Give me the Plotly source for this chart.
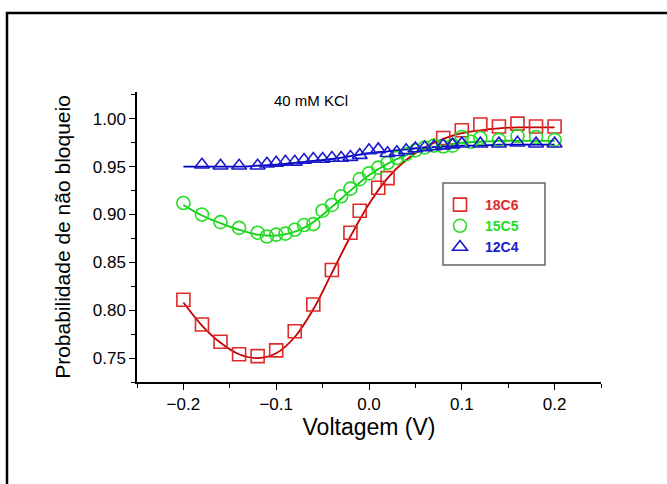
import plotly.graph_objects as go

# ---------------- data ----------------
title_text = "40 mM KCl"
x_title = "Voltagem (V)"
y_title = "Probabilidade de não bloqueio"
series_names = ["18C6", "15C5", "12C4"]

v_18c6 = [-0.20, -0.18, -0.16, -0.14, -0.12, -0.10, -0.08, -0.06, -0.04, -0.02, -0.01, 0.01, 0.02,
          0.08, 0.10, 0.12, 0.14, 0.16, 0.18, 0.20]
p_18c6 = [0.811, 0.785, 0.767, 0.754, 0.752, 0.758, 0.778, 0.806, 0.842, 0.881, 0.904, 0.928, 0.938,
          0.980, 0.988, 0.994, 0.992, 0.995, 0.992, 0.992]

v_15c5 = [-0.20, -0.18, -0.16, -0.14, -0.12, -0.11, -0.10, -0.09, -0.08, -0.07, -0.06, -0.05, -0.04,
          -0.03, -0.02, -0.01, 0.00, 0.01, 0.02, 0.03, 0.04, 0.05, 0.06, 0.07, 0.08, 0.09, 0.10,
          0.11, 0.12, 0.14, 0.16, 0.18, 0.20]
p_15c5 = [0.912, 0.900, 0.892, 0.886, 0.881, 0.877, 0.879, 0.880, 0.884, 0.889, 0.890, 0.904, 0.910,
          0.919, 0.927, 0.937, 0.943, 0.949, 0.954, 0.959, 0.963, 0.967, 0.970, 0.972, 0.971, 0.972, 0.981,
          0.976, 0.980, 0.978, 0.982, 0.981, 0.978]

v_12c4 = [-0.18, -0.16, -0.14, -0.12, -0.11, -0.10, -0.09, -0.08, -0.07, -0.06, -0.05, -0.04, -0.03,
          -0.02, -0.01, 0.00, 0.01, 0.02, 0.03, 0.04, 0.05, 0.06, 0.07, 0.08, 0.09, 0.10, 0.12,
          0.14, 0.16, 0.18, 0.20]
p_12c4 = [0.952, 0.951, 0.951, 0.951, 0.953, 0.954, 0.955, 0.955, 0.957, 0.958, 0.958, 0.959, 0.959,
          0.960, 0.962, 0.967, 0.968, 0.964, 0.965, 0.967, 0.969, 0.970, 0.971, 0.972, 0.973, 0.974, 0.974,
          0.974, 0.975, 0.974, 0.974]

# fitted curves
v_fit = [-0.20, -0.18, -0.16, -0.14, -0.12, -0.10, -0.08, -0.06, -0.04, -0.02, 0.00,
         0.02, 0.04, 0.06, 0.08, 0.10, 0.12, 0.14, 0.16, 0.18, 0.20]
fit_18c6 = [0.808, 0.784, 0.766, 0.754, 0.750, 0.755, 0.772, 0.801, 0.839, 0.877, 0.911,
            0.938, 0.957, 0.970, 0.979, 0.985, 0.988, 0.990, 0.991, 0.991, 0.991]
fit_15c5 = [0.910, 0.899, 0.891, 0.884, 0.879, 0.878, 0.882, 0.892, 0.908, 0.925, 0.941,
            0.953, 0.962, 0.968, 0.972, 0.975, 0.976, 0.977, 0.977, 0.977, 0.977]
fit_12c4 = [0.950, 0.950, 0.950, 0.950, 0.951, 0.952, 0.954, 0.956, 0.958, 0.961, 0.964,
            0.966, 0.968, 0.970, 0.971, 0.972, 0.972, 0.973, 0.973, 0.973, 0.973]

# ---------------- styling ----------------
marker_colors = ["#dd2a2a", "#22dd22", "#1a1acc"]
line_colors = ["#c40000", "#11cc11", "#0000c0"]
symbols = ["square-open", "circle-open", "triangle-up-open"]
FONT = "Liberation Sans, Arial, sans-serif"

W, H = 667, 484
L, R, T, B = 137, 66, 92, 102
pw, ph = W - L - R, H - T - B


def px_x(px):
    return (px - L) / pw


def px_y(py):
    return (H - B - py) / ph


fig = go.Figure()

fits = [fit_18c6, fit_15c5, fit_12c4]
for i in range(3):
    fig.add_trace(go.Scatter(x=v_fit, y=fits[i], mode="lines", line=dict(color=line_colors[i], width=1.8, shape="spline"),
                             showlegend=False, hoverinfo="skip"))

data = [(v_18c6, p_18c6), (v_15c5, p_15c5), (v_12c4, p_12c4)]
for i, (vx, py) in enumerate(data):
    fig.add_trace(go.Scatter(
        x=vx, y=py, mode="markers",
        marker=dict(symbol=symbols[i], size=13, color=marker_colors[i], line=dict(width=1.6, color=marker_colors[i])),
        name=f"<span style='color:{marker_colors[i]}'><b>{series_names[i]}</b></span>",
    ))

fig.update_layout(
    width=W, height=H,
    margin=dict(l=L, r=R, t=T, b=B, pad=0),
    paper_bgcolor="white", plot_bgcolor="white",
    font=dict(family=FONT, color="black", size=15),
    showlegend=True,
    legend=dict(x=px_x(435), y=px_y(189), xanchor="left", yanchor="top",
                bgcolor="rgba(0,0,0,0)", borderwidth=0,
                font=dict(size=14, family=FONT), itemwidth=40, tracegroupgap=0),
    xaxis=dict(range=[-0.25, 0.25], dtick=0.1, tick0=0, tickformat=".1f",
               showline=True, linecolor="black", linewidth=1.5, showgrid=False, zeroline=False,
               ticks="outside", ticklen=6, tickwidth=1.2, tickcolor="black",
               minor=dict(dtick=0.05, tick0=0, ticks="outside", ticklen=4, tickwidth=1.2, tickcolor="black"),
               tickfont=dict(size=17), title=dict(text=x_title, font=dict(size=23), standoff=0)),
    yaxis=dict(range=[0.725, 1.028], dtick=0.05, tick0=0, tickformat=".2f",
               showline=True, linecolor="black", linewidth=1.5, showgrid=False, zeroline=False,
               ticks="outside", ticklen=6, tickwidth=1.2, tickcolor="black",
               minor=dict(dtick=0.025, tick0=0, ticks="outside", ticklen=4, tickwidth=1.2, tickcolor="black"),
               tickfont=dict(size=17), title=dict(text=y_title, font=dict(size=21), standoff=16)),
    annotations=[dict(text=title_text, x=px_x(311), y=px_y(101), xref="paper", yref="paper",
                      showarrow=False, font=dict(size=15, family=FONT), xanchor="center", yanchor="middle")],
    shapes=[
        dict(type="line", xref="paper", yref="paper", x0=px_x(6), x1=px_x(W + 5), y0=px_y(13), y1=px_y(13),
             line=dict(color="black", width=2.5)),
        dict(type="line", xref="paper", yref="paper", x0=px_x(7), x1=px_x(7), y0=px_y(12), y1=px_y(H + 5),
             line=dict(color="black", width=2.5)),
        dict(type="rect", xref="paper", yref="paper", x0=px_x(443), x1=px_x(545), y0=px_y(265), y1=px_y(183),
             line=dict(color="#666666", width=1.5), layer="above"),
    ],
)

fig.write_html("out.html")
